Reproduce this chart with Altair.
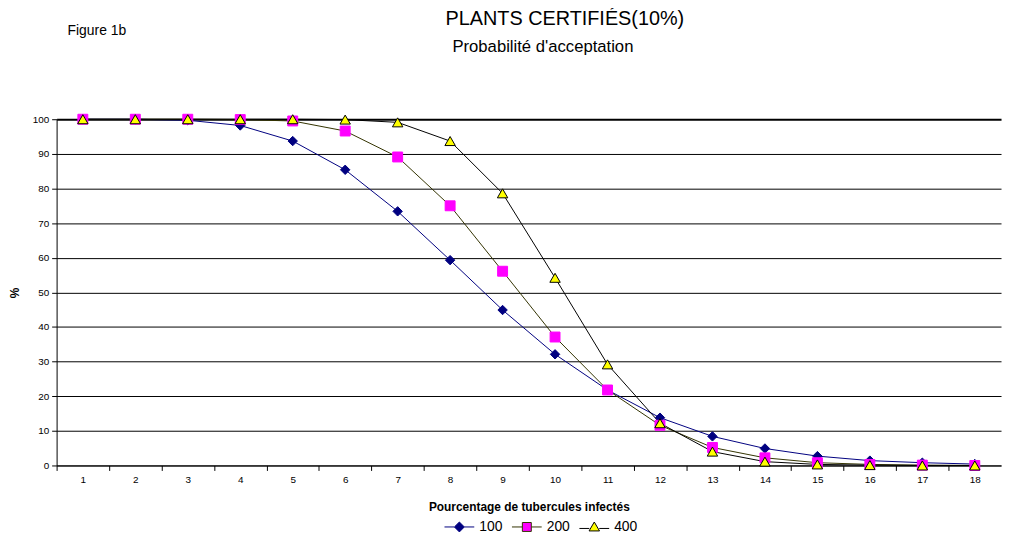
import altair as alt
import pandas as pd

# ---- data ----
pct = list(range(1, 19))
series_names = ["100", "200", "400"]
s100 = [100, 100, 99.7, 98.2, 93.7, 85.4, 73.4, 59.3, 44.9, 32.1, 21.8, 13.8, 8.4, 4.9, 2.7, 1.4, 0.8, 0.4]
s200 = [100, 100, 100, 99.9, 99.5, 96.6, 89.1, 75.0, 56.1, 37.1, 21.8, 11.6, 5.2, 2.2, 0.8, 0.3, 0.1, 0.0]
s400 = [100, 100, 100, 100, 100, 99.9, 99.1, 93.7, 78.6, 54.2, 29.2, 12.2, 4.0, 1.1, 0.3, 0.1, 0.0, 0.0]
y_ticks = list(range(0, 101, 10))

title_text = "PLANTS CERTIFIÉS(10%)"
subtitle_text = "Probabilité d'acceptation"
figure_text = "Figure 1b"

line_colors = ["#000080", "#333300", "#000000"]
marker_fill = ["#000080", "#FF00FF", "#FFFF00"]
marker_stroke = ["#000080", "#FF00FF", "#000000"]
marker_shapes = ["diamond", "square", "triangle-up"]
marker_sizes = [90, 110, 130]
legend_shapes = [
    "M-3,0L-1,0M1,0L3,0M0,-1L1,0L0,1L-1,0Z",
    "M-3,0L-0.9,0M0.9,0L3,0M-0.9,-0.9L0.9,-0.9L0.9,0.9L-0.9,0.9Z",
    "M-3,0.3L-1,0.3M1,0.3L3,0.3M0,-1L1.05,0.8L-1.05,0.8Z",
]

rows = []
for name, vals in zip(series_names, [s100, s200, s400]):
    for p, v in zip(pct, vals):
        rows.append({"pct": p, "val": v, "series": name})
df = pd.DataFrame(rows)

FONT = "Liberation Sans, Arial, sans-serif"
W, H = 952, 349
half = W / 36.0

x = alt.X(
    "pct:Q",
    scale=alt.Scale(domain=[0.5, 18.5], nice=False, zero=False),
    axis=alt.Axis(
        values=pct, tickOffset=-half, labelOffset=half, grid=False,
        title="Pourcentage de tubercules infectés", titlePadding=17,
        labelPadding=4, format="d",
    ),
)
y = alt.Y(
    "val:Q",
    scale=alt.Scale(domain=[0, 100], nice=False),
    axis=alt.Axis(
        values=y_ticks, grid=True, gridColor="#000000", gridOpacity=1,
        gridWidth={"condition": {"test": "datum.value === 100", "value": 2}, "value": 1},
        title="%", titlePadding=11, labelPadding=3,
    ),
)

base = alt.Chart(df)

lines = base.mark_line(strokeWidth=1).encode(
    x=x, y=y,
    color=alt.Color("series:N", scale=alt.Scale(domain=series_names, range=line_colors), legend=None),
)

points = base.mark_point(filled=True, strokeWidth=1, opacity=1).encode(
    x=x, y=y,
    shape=alt.Shape("series:N", scale=alt.Scale(domain=series_names, range=marker_shapes), legend=None),
    fill=alt.Fill("series:N", scale=alt.Scale(domain=series_names, range=marker_fill), legend=None),
    stroke=alt.Stroke("series:N", scale=alt.Scale(domain=series_names, range=marker_stroke), legend=None),
    size=alt.Size("series:N", scale=alt.Scale(domain=series_names, range=marker_sizes), legend=None),
)

leg = alt.Legend(
    title=None, orient="none", legendX=389, legendY=404, direction="horizontal",
    symbolSize=100, symbolStrokeWidth=1, symbolOpacity=1, labelFontSize=14,
    labelFont=FONT, labelColor="#000000", labelOffset=13, symbolOffset=10, columnPadding=7,
)

legend_layer = base.mark_point(filled=True, opacity=0, strokeWidth=1).encode(
    x=x, y=y,
    shape=alt.Shape("series:N", scale=alt.Scale(domain=series_names, range=legend_shapes), legend=leg),
    fill=alt.Fill("series:N", scale=alt.Scale(domain=series_names, range=marker_fill), legend=leg),
    stroke=alt.Stroke("series:N", scale=alt.Scale(domain=series_names, range=line_colors), legend=leg),
)

fig_label = alt.Chart(pd.DataFrame({"t": [figure_text]})).mark_text(
    align="left", baseline="middle", fontSize=14, font=FONT, color="#000000"
).encode(x=alt.value(11), y=alt.value(-89), text="t:N")

title_label = alt.Chart(pd.DataFrame({"t": [title_text]})).mark_text(
    align="left", baseline="middle", fontSize=20, font=FONT, color="#000000"
).encode(x=alt.value(392), y=alt.value(-101), text="t:N")

subtitle_label = alt.Chart(pd.DataFrame({"t": [subtitle_text]})).mark_text(
    align="left", baseline="middle", fontSize=16.8, font=FONT, color="#000000"
).encode(x=alt.value(399), y=alt.value(-73), text="t:N")

chart = alt.layer(lines, points, legend_layer, fig_label, title_label, subtitle_label).resolve_scale(
    shape="independent", fill="independent", stroke="independent", size="independent"
).properties(
    width=W, height=H,
    autosize=alt.AutoSizeParams(type="none"),
    padding={"left": 49, "top": 110, "right": 4, "bottom": 72},
).configure_view(stroke=None).configure_axis(
    domainColor="#000000", tickColor="#000000", labelColor="#000000", titleColor="#000000",
    labelFont=FONT, titleFont=FONT, labelFontSize=10, titleFontSize=12, titleFontWeight="bold",
    tickSize=5, domainWidth=1, tickWidth=1,
)

chart.save("out.html", embed_options={"renderer": "svg", "actions": False})
